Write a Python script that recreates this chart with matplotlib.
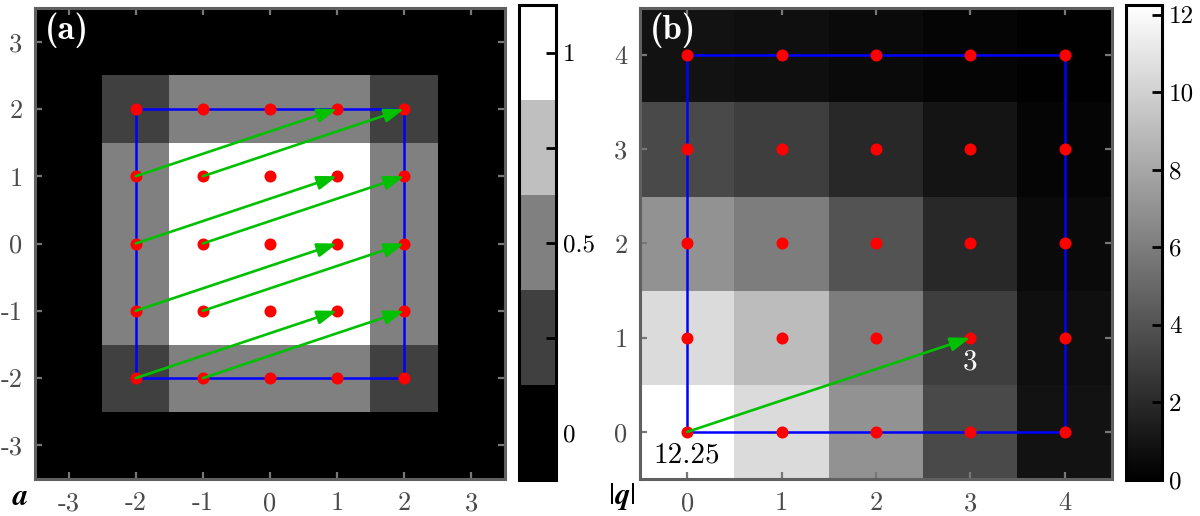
import numpy as np
import matplotlib
matplotlib.use('Agg')
import matplotlib.pyplot as plt
from matplotlib.colors import ListedColormap

plt.rcParams['axes.unicode_minus'] = False
plt.rcParams['font.family'] = ['cmr10', 'DejaVu Serif']
plt.rcParams['mathtext.fontset'] = 'cm'

# ---------------- data ----------------
# Panel (a): 7x7 weight autocorrelation map (rows = y from -3 to 3)
a_coords = [-3, -2, -1, 0, 1, 2, 3]
a_values = [
    [0, 0,    0,   0,   0,   0,    0],
    [0, 0.25, 0.5, 0.5, 0.5, 0.25, 0],
    [0, 0.5,  1,   1,   1,   0.5,  0],
    [0, 0.5,  1,   1,   1,   0.5,  0],
    [0, 0.5,  1,   1,   1,   0.5,  0],
    [0, 0.25, 0.5, 0.5, 0.5, 0.25, 0],
    [0, 0,    0,   0,   0,   0,    0],
]
a_points = [-2, -1, 0, 1, 2]
a_box_x = [-2, 2, 2, -2, -2]
a_box_y = [-2, -2, 2, 2, -2]
a_arrow_x0 = [-2, -1, -2, -1, -2, -1, -2, -1]
a_arrow_y0 = [1, 1, 0, 0, -1, -1, -2, -2]
a_arrow_x1 = [1, 2, 1, 2, 1, 2, 1, 2]
a_arrow_y1 = [2, 2, 1, 1, 0, 0, -1, -1]
a_level_colors = ['#000000', '#404040', '#808080', '#bfbfbf', '#ffffff']
a_cbar_ticks = [0, 0.25, 0.5, 0.75, 1]
a_cbar_labels = ['0', '', '0.5', '', '1']

# Panel (b): 5x5 map over |q| (rows = y from 0 to 4)
b_coords = [0, 1, 2, 3, 4]
b_values = [
    [12.25, 10.5, 7.0, 3.5, 0.875],
    [10.5,  9.0,  6.0, 3.0, 0.75],
    [7.0,   6.0,  4.0, 2.0, 0.5],
    [3.5,   3.0,  2.0, 1.0, 0.25],
    [0.875, 0.75, 0.5, 0.25, 0.0625],
]
b_points = [0, 1, 2, 3, 4]
b_box_x = [0, 4, 4, 0, 0]
b_box_y = [0, 0, 4, 4, 0]
b_arrow_x0, b_arrow_y0, b_arrow_x1, b_arrow_y1 = [0], [0], [3], [1]
b_cbar_ticks = [0, 2, 4, 6, 8, 10, 12]
b_annot_text = ['12.25', '3']
b_annot_x = [0, 3]
b_annot_y = [-0.25, 0.74]
b_annot_color = ['black', 'white']

# ---------------- style ----------------
RED = '#ff0000'
BLUE = '#0000ff'
GREEN = '#00c000'
SPINE = '#606060'
TICKLAB = '#4a4a4a'

W, H = 1200, 516
fig = plt.figure(figsize=(W / 100, H / 100), dpi=100)


def px(l, t, r, b):
    return [l / W, 1 - b / H, (r - l) / W, (b - t) / H]


def style_axes(ax):
    for s in ax.spines.values():
        s.set_color(SPINE)
        s.set_linewidth(2.2)
    ax.tick_params(direction='in', top=True, right=True, length=5, width=1.6,
                   color='#777777', labelcolor=TICKLAB, labelsize=19, pad=9)


def style_cbar(cax):
    for s in cax.spines.values():
        s.set_color('black')
        s.set_linewidth(2.2)
    cax.tick_params(direction='in', length=7, width=2, color='black',
                    labelcolor='black', labelsize=18, pad=5)


def draw_overlay(ax, pts, bx, by, x0, y0, x1, y1):
    ax.plot(bx, by, color=BLUE, lw=1.8, zorder=3)
    X, Y = np.meshgrid(pts, pts)
    ax.scatter(X.ravel(), Y.ravel(), s=75, color=RED, zorder=4, linewidths=0)
    for xa, ya, xb, yb in zip(x0, y0, x1, y1):
        ax.annotate('', xy=(xb, yb), xytext=(xa, ya),
                    arrowprops=dict(arrowstyle='-|>,head_length=1.2,head_width=0.42',
                                    color=GREEN, lw=1.9, shrinkA=0, shrinkB=0),
                    zorder=5)


# ---- Panel (a) ----
axa = fig.add_axes(px(35, 8, 505, 479))
cmap_a = ListedColormap(a_level_colors)
ima = axa.imshow(np.array(a_values), cmap=cmap_a, vmin=-0.125, vmax=1.125,
                 origin='lower', extent=[-3.5, 3.5, -3.5, 3.5], aspect='auto',
                 interpolation='nearest')
draw_overlay(axa, a_points, a_box_x, a_box_y,
             a_arrow_x0, a_arrow_y0, a_arrow_x1, a_arrow_y1)
axa.set_xlim(-3.5, 3.5)
axa.set_ylim(-3.5, 3.5)
axa.set_xticks(a_coords)
axa.set_yticks(a_coords)
axa.set_xticklabels([str(v) for v in a_coords])
axa.set_yticklabels([str(v) for v in a_coords])
style_axes(axa)
axa.text(0.02, 0.99, '(a)', transform=axa.transAxes, ha='left', va='top',
         color='white', fontsize=25, family='cmb10')

caxa = fig.add_axes(px(519, 5, 556, 480))
cba = fig.colorbar(ima, cax=caxa, ticks=a_cbar_ticks)
cba.ax.set_yticklabels(a_cbar_labels)
cba.outline.set_linewidth(2.2)
style_cbar(caxa)

# ---- Panel (b) ----
axb = fig.add_axes(px(640, 8, 1112, 479))
imb = axb.imshow(np.array(b_values), cmap='gray', vmin=0, vmax=12.25,
                 origin='lower', extent=[-0.5, 4.5, -0.5, 4.5], aspect='auto',
                 interpolation='nearest')
draw_overlay(axb, b_points, b_box_x, b_box_y,
             b_arrow_x0, b_arrow_y0, b_arrow_x1, b_arrow_y1)
for t, x, y, c in zip(b_annot_text, b_annot_x, b_annot_y, b_annot_color):
    axb.text(x, y, t, ha='center', va='center', color=c, fontsize=21, zorder=6)
axb.set_xlim(-0.5, 4.5)
axb.set_ylim(-0.5, 4.5)
axb.set_xticks(b_coords)
axb.set_yticks(b_coords)
axb.set_xticklabels([str(v) for v in b_coords])
axb.set_yticklabels([str(v) for v in b_coords])
style_axes(axb)
axb.text(0.02, 0.99, '(b)', transform=axb.transAxes, ha='left', va='top',
         color='white', fontsize=25, family='cmb10')

caxb = fig.add_axes(px(1126, 5, 1162, 480))
cbb = fig.colorbar(imb, cax=caxb, ticks=b_cbar_ticks)
cbb.outline.set_linewidth(2.2)
style_cbar(caxb)

# axis corner labels
fig.text(20 / W, 1 - 497 / H, r'$\boldsymbol{a}$', ha='center', va='center',
         fontsize=22, math_fontfamily='stix')
fig.text(622 / W, 1 - 497 / H, r'$|\boldsymbol{q}|$', ha='center', va='center',
         fontsize=22, math_fontfamily='stix')

fig.savefig('out.png', dpi=100)
